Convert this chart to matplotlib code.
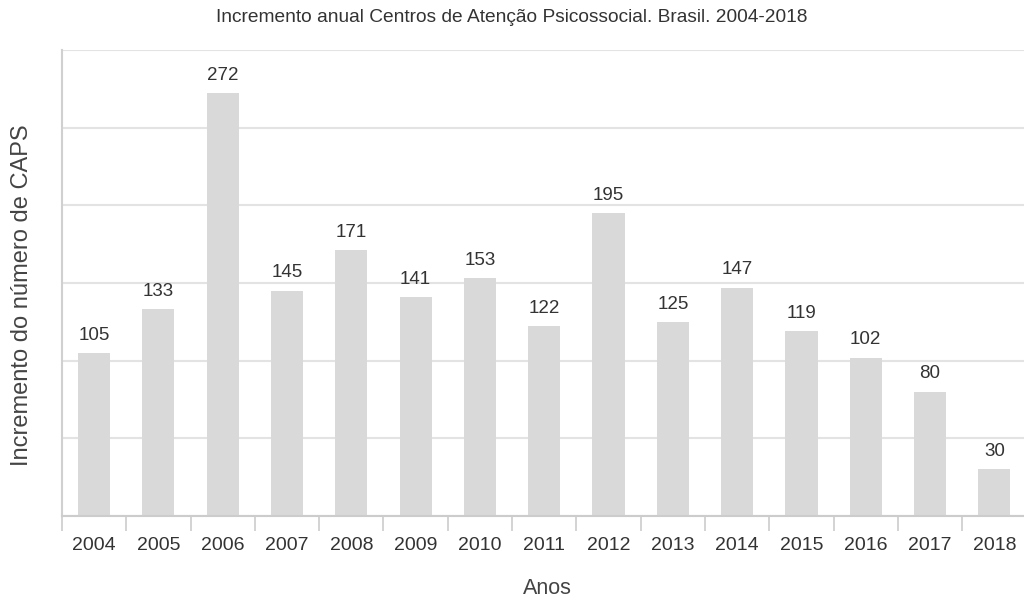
import matplotlib
matplotlib.use("Agg")
import matplotlib.pyplot as plt
import numpy as np

years = ["2004", "2005", "2006", "2007", "2008", "2009", "2010", "2011",
         "2012", "2013", "2014", "2015", "2016", "2017", "2018"]
values = [105, 133, 272, 145, 171, 141, 153, 122, 195, 125, 147, 119, 102, 80, 30]

plt.rcParams['font.family'] = ['Liberation Sans', 'DejaVu Sans']

fig = plt.figure(figsize=(10.24, 6.0), dpi=100)
ax = fig.add_axes([0.0605, 0.14, 0.942, 0.7767])

x = np.arange(len(years))
ax.bar(x, values, width=0.5, color='#d9d9d9', zorder=2)
for xi, v in zip(x, values):
    ax.text(xi, v + 6, str(v), ha='center', va='bottom', fontsize=13.5, color='#333333')

ax.set_xlim(-0.5, len(years) - 0.5)
ax.set_ylim(0, 300)
ax.set_yticks(np.arange(0, 301, 50))
ax.yaxis.grid(True, color='#e3e3e3', linewidth=1.5, zorder=0)
ax.tick_params(axis='y', length=0, labelleft=False)

ax.set_xticks(x)
ax.set_xticklabels(years, fontsize=14, color='#333333')
ax.set_xticks(np.arange(-0.5, len(years), 1), minor=True)
ax.tick_params(axis='x', which='major', length=0, pad=15)
ax.tick_params(axis='x', which='minor', length=11, width=1.2, color='#cccccc')

for s in ['top', 'right']:
    ax.spines[s].set_visible(False)
ax.spines['left'].set_color('#d0d0d0')
ax.spines['left'].set_linewidth(1.5)
ax.spines['bottom'].set_color('#cccccc')
ax.spines['bottom'].set_linewidth(1.5)

fig.text(547 / 1024, 1 - 589 / 600, 'Anos', ha='center', va='center',
         fontsize=15.5, color='#444444')
fig.text(22 / 1024, 1 - 295 / 600, 'Incremento do número de CAPS', ha='center',
         va='center', rotation=90, fontsize=17, color='#444444')
fig.text(0.5, 1 - 18 / 600, 'Incremento anual Centros de Atenção Psicossocial. Brasil. 2004-2018',
         ha='center', va='center', fontsize=13.8, color='#333333')

fig.savefig('out.png', dpi=100)
